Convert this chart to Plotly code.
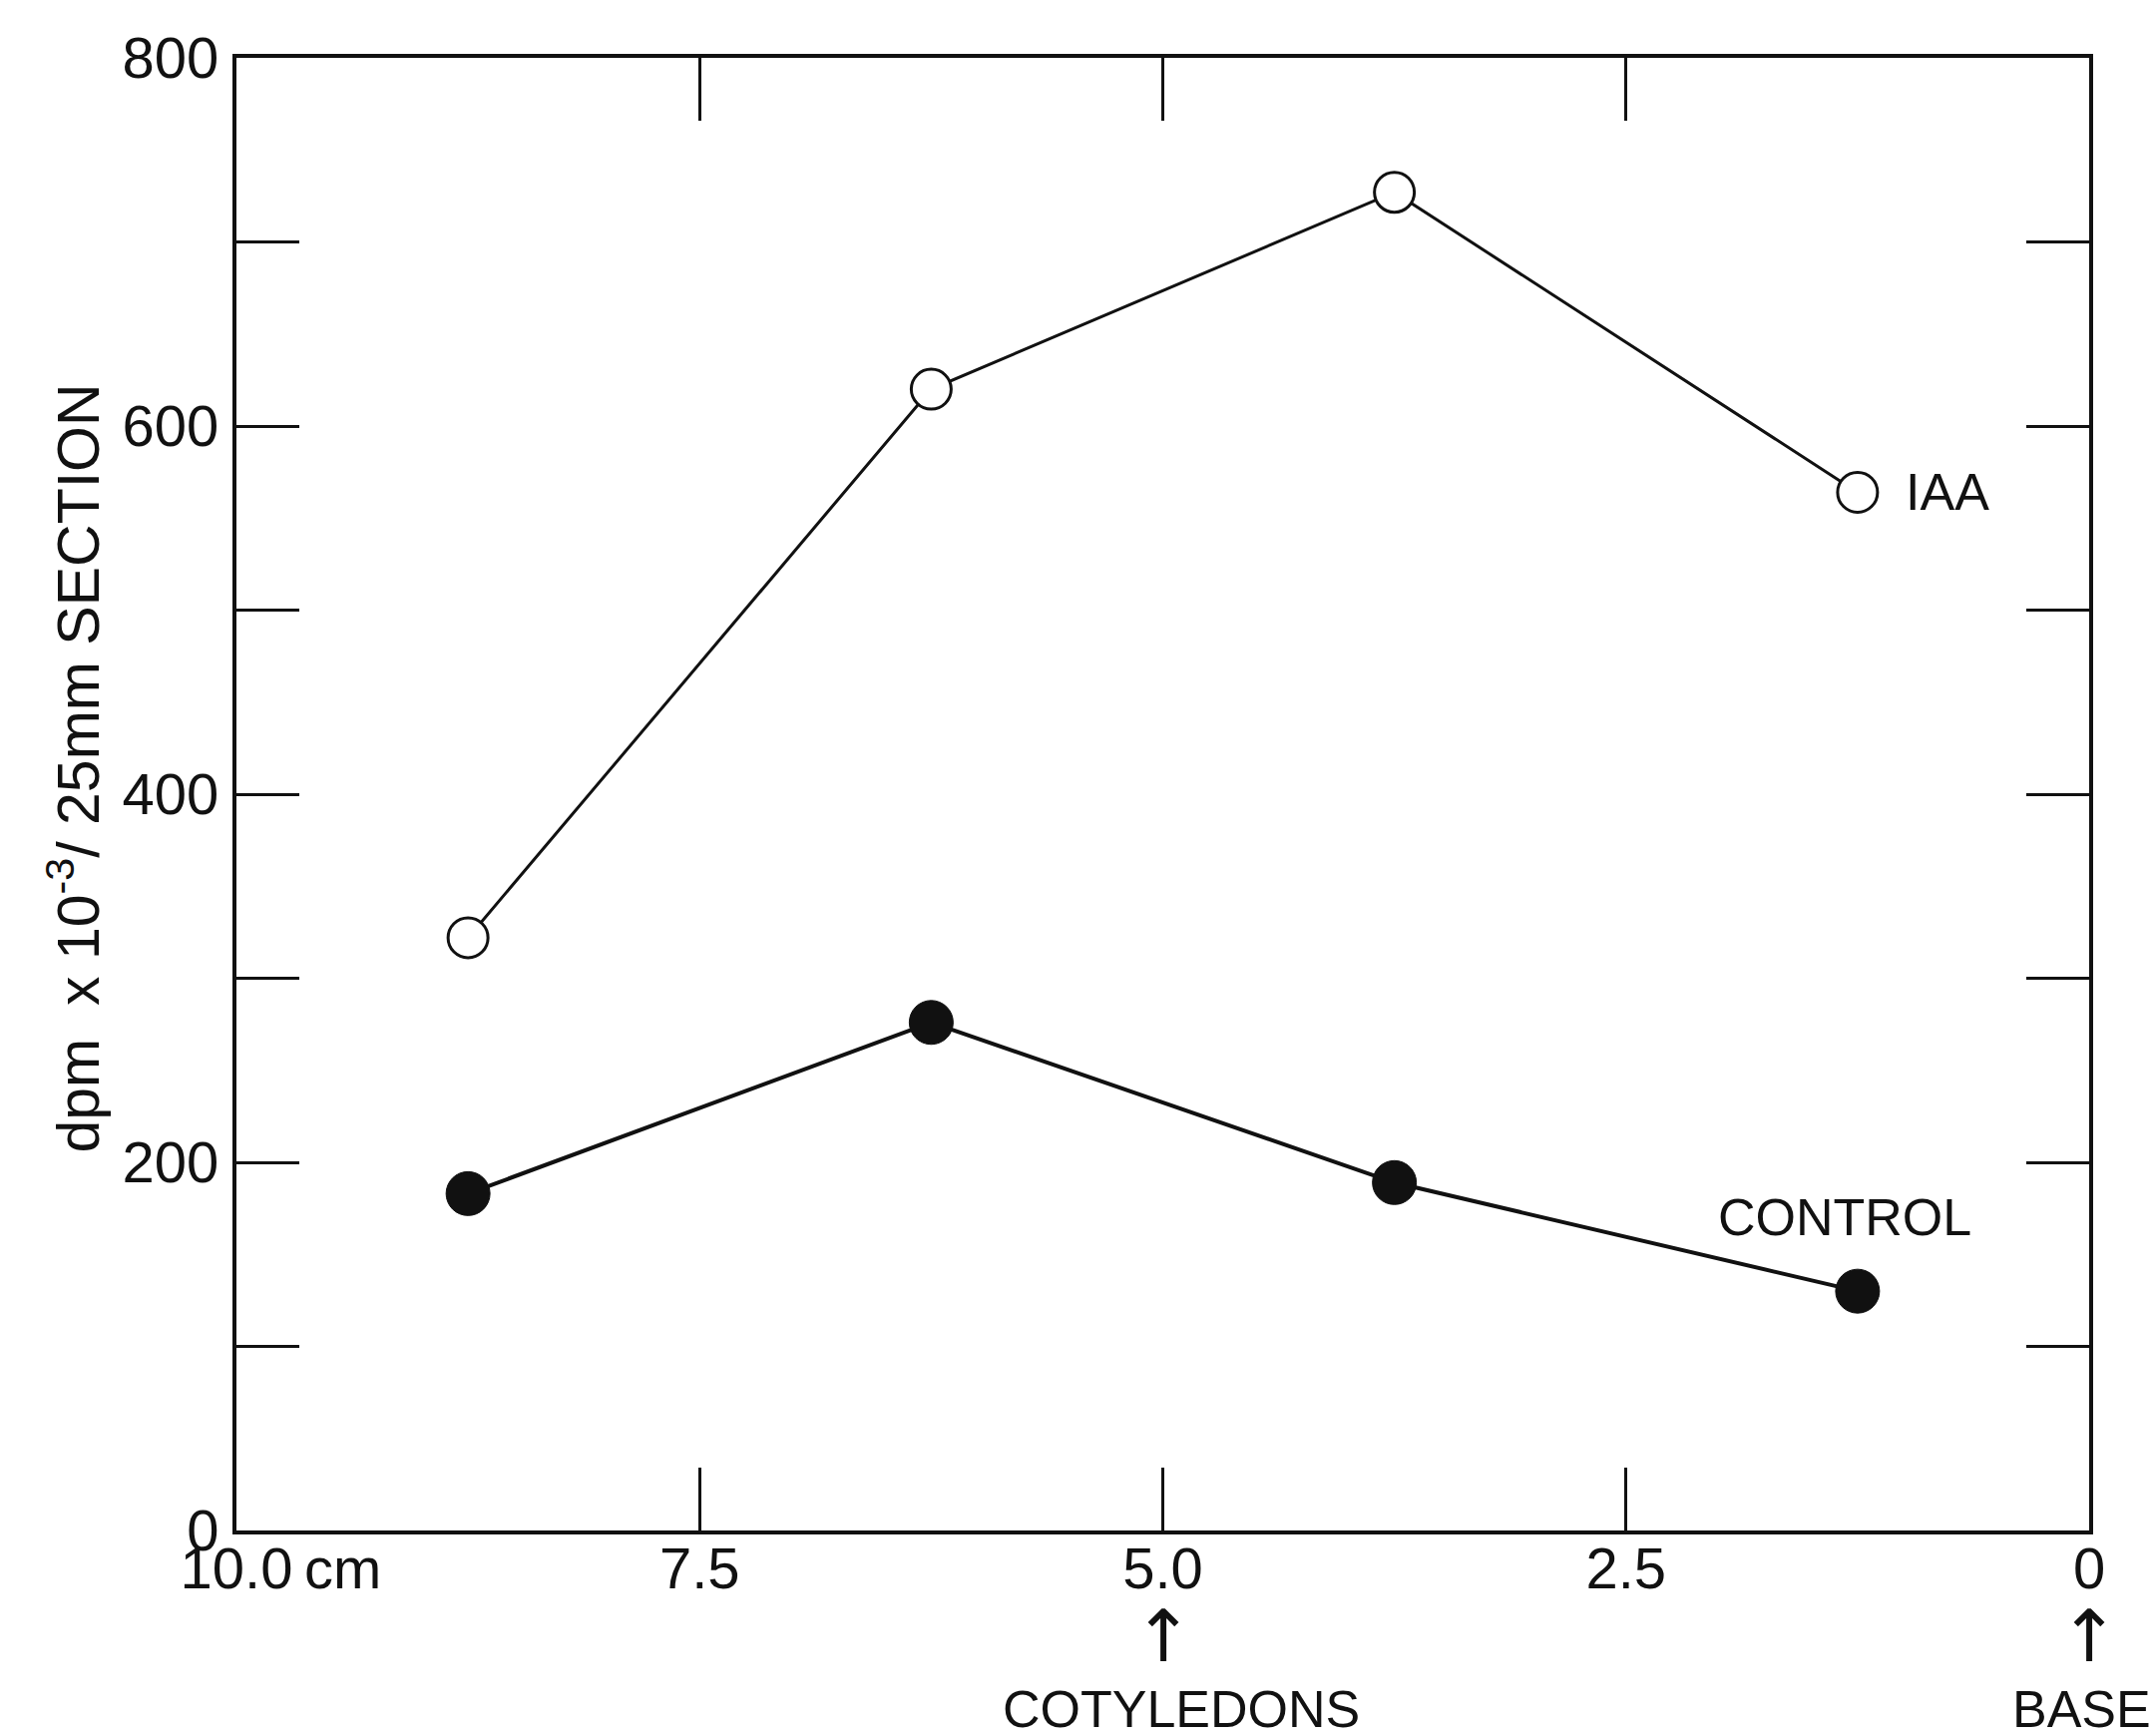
import plotly.graph_objects as go

# Data (position along hypocotyl, cm from base; dpm x 10^-3 per 25 mm section)
positions = [8.75, 6.25, 3.75, 1.25]
iaa_values = [322, 620, 727, 564]
control_values = [183, 276, 189, 130]

x_tick_vals = [10.0, 7.5, 5.0, 2.5, 0.0]
x_tick_text = ["10.0", "7.5", "5.0", "2.5", "0"]
y_tick_vals = [0, 100, 200, 300, 400, 500, 600, 700, 800]
y_tick_text = ["0", " ", "200", " ", "400", " ", "600", " ", "800"]

FONT = "Liberation Sans"
INK = "#111111"

fig = go.Figure()

fig.add_trace(go.Scatter(
    x=positions, y=iaa_values, mode="lines+markers", name="IAA",
    line=dict(color=INK, width=3),
    marker=dict(symbol="circle", size=40, color="white",
                line=dict(color=INK, width=3)),
    showlegend=False,
))
fig.add_trace(go.Scatter(
    x=positions, y=control_values, mode="lines+markers", name="CONTROL",
    line=dict(color=INK, width=4),
    marker=dict(symbol="circle", size=44, color=INK,
                line=dict(color=INK, width=1)),
    showlegend=False,
))

annotations = [
    dict(x=1.25, y=564, xref="x", yref="y", text="IAA", showarrow=False,
         xanchor="left", yanchor="middle", xshift=46,
         font=dict(family=FONT, size=52, color=INK)),
    dict(x=1.32, y=170, xref="x", yref="y", text="CONTROL", showarrow=False,
         xanchor="center", yanchor="middle",
         font=dict(family=FONT, size=52, color=INK)),
    dict(x=10.0, y=-0.0252, xref="x", yref="paper", text="cm", showarrow=False,
         xanchor="left", yanchor="middle", xshift=66,
         font=dict(family=FONT, size=58, color=INK)),
    dict(x=5.0, y=-0.0715, xref="x", yref="paper", text="↑", showarrow=False,
         xanchor="center", yanchor="middle",
         font=dict(family="DejaVu Sans", size=72, color=INK)),
    dict(x=0.0, y=-0.0715, xref="x", yref="paper", text="↑", showarrow=False,
         xanchor="center", yanchor="middle",
         font=dict(family="DejaVu Sans", size=72, color=INK)),
    dict(x=5.0, y=-0.121, xref="x", yref="paper", text="COTYLEDONS", showarrow=False,
         xanchor="center", yanchor="middle", xshift=18,
         font=dict(family=FONT, size=52, color=INK)),
    dict(x=0.0, y=-0.121, xref="x", yref="paper", text="BASE", showarrow=False,
         xanchor="center", yanchor="middle", xshift=-8,
         font=dict(family=FONT, size=52, color=INK)),
    dict(x=-0.0875, y=0.5176, xref="paper", yref="paper",
         text="dpm\u00a0\u00a0x 10<sup>-3</sup>/ 25mm SECTION", showarrow=False,
         textangle=-90, xanchor="center", yanchor="middle",
         font=dict(family=FONT, size=59, color=INK)),
]

fig.update_layout(
    width=2157, height=1740,
    margin=dict(l=237, r=63, t=58, b=206),
    paper_bgcolor="white", plot_bgcolor="white",
    annotations=annotations,
    font=dict(family=FONT, color=INK),
)

fig.update_xaxes(
    range=[10, 0], tickmode="array", tickvals=x_tick_vals, ticktext=x_tick_text,
    ticks="inside", ticklen=63, tickwidth=3, tickcolor=INK,
    showline=True, linecolor=INK, linewidth=4, mirror="ticks",
    showgrid=False, zeroline=False,
    tickfont=dict(family=FONT, size=58, color=INK),
    ticklabelstandoff=-16,
)
fig.update_yaxes(
    range=[0, 800], tickmode="array", tickvals=y_tick_vals, ticktext=y_tick_text,
    ticks="inside", ticklen=63, tickwidth=3, tickcolor=INK,
    showline=True, linecolor=INK, linewidth=4, mirror="ticks",
    showgrid=False, zeroline=False,
    tickfont=dict(family=FONT, size=58, color=INK),
    ticklabelstandoff=2,
)

fig.write_html("out.html")
